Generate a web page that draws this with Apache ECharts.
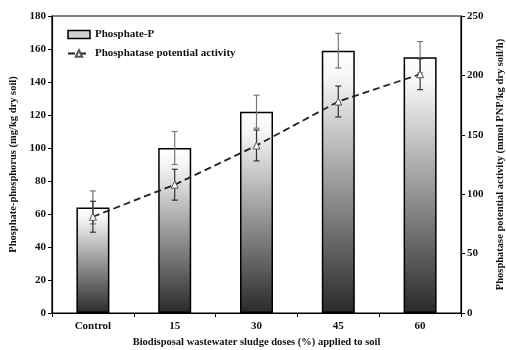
<!DOCTYPE html>
<html>
<head>
<meta charset="utf-8">
<script src="https://cdn.jsdelivr.net/npm/echarts@6/dist/echarts.min.js"></script>
<style>
html,body{margin:0;padding:0;background:#fff;}
#chart{width:506px;height:350px;}
</style>
</head>
<body>
<div id="chart"></div>
<script>
// doses applied to soil
var categories = ['Control', '15', '30', '45', '60'];
// phosphate-P (mg/kg dry soil), left axis
var phosphateP = [64, 100, 122, 159, 155];
var phosphateErr = [10, 10, 10, 10.5, 9.5];
// phosphatase potential activity, right axis
var activity = [81, 108, 141, 178, 201];
var activityErr = [13, 13, 13, 13, 13];

var serif = '"Liberation Serif", "DejaVu Serif", serif';

function errItems(vals, errs){
	return vals.map(function(v, i){ return [i, v - errs[i], v + errs[i]]; });
}

// draws vertical error bar with caps
function drawErr(color){
	return function(params, api){
		var lo = api.coord([api.value(0), api.value(1)]);
		var hi = api.coord([api.value(0), api.value(2)]);
		var w = 3;
		var st = {stroke: color, lineWidth: 1.2};
		return {
			type: 'group',
			children: [
				{type: 'line', shape: {x1: hi[0], y1: hi[1], x2: lo[0], y2: lo[1]}, style: st},
				{type: 'line', shape: {x1: hi[0]-w, y1: hi[1], x2: hi[0]+w, y2: hi[1]}, style: st},
				{type: 'line', shape: {x1: lo[0]-w, y1: lo[1], x2: lo[0]+w, y2: lo[1]}, style: st}
			]
		};
	};
}

var chart = echarts.init(document.getElementById('chart'));
var barGrad = new echarts.graphic.LinearGradient(0, 0, 0, 1, [
	{offset: 0, color: '#ffffff'},
	{offset: 0.1, color: '#f6f6f6'},
	{offset: 1, color: '#2a2a2a'}
]);

var options = {
	backgroundColor: '#ffffff',
	animation: false,
	textStyle: {fontFamily: serif},
	grid: {
		left: 52, right: 45, top: 16, bottom: 37,
		outerBoundsMode: 'none',
		containLabel: false,
		show: true, borderColor: '#000', borderWidth: 1.2
	},
	legend: {
		left: 62, top: 24,
		orient: 'vertical',
		itemGap: 8,
		itemWidth: 22, itemHeight: 8,
		textStyle: {fontFamily: serif, fontWeight: 'bold', fontSize: 11, color: '#111'},
		data: [
			{name: 'Phosphate-P', icon: 'rect', itemStyle: {color: '#cfcfcf', borderColor: '#000', borderWidth: 1.5}},
			{name: 'Phosphatase potential activity'}
		]
	},
	xAxis: {
		type: 'category',
		data: categories,
		name: 'Biodisposal wastewater sludge doses (%) applied to soil',
		nameLocation: 'middle',
		nameGap: 24,
		nameTextStyle: {fontFamily: serif, fontWeight: 'bold', fontSize: 10.5, color: '#111'},
		axisLine: {lineStyle: {color: '#000', width: 1.2}},
		axisTick: {show: true, length: 4, lineStyle: {color: '#000'}},
		axisLabel: {fontFamily: serif, fontWeight: 'bold', fontSize: 11, color: '#111', margin: 8}
	},
	yAxis: [
		{
			type: 'value', min: 0, max: 180, interval: 20,
			name: 'Phosphate-phosphorus (mg/kg dry soil)',
			nameLocation: 'middle', nameGap: 32, nameRotate: 90,
			nameTextStyle: {fontFamily: serif, fontWeight: 'bold', fontSize: 10.5, color: '#111'},
			axisLine: {show: true, lineStyle: {color: '#000', width: 1.2}},
			axisTick: {show: true, length: 4, lineStyle: {color: '#000'}},
			axisLabel: {fontFamily: serif, fontWeight: 'bold', fontSize: 11, color: '#111', margin: 6},
			splitLine: {show: false}
		},
		{
			type: 'value', min: 0, max: 250, interval: 50,
			name: 'Phosphatase potential activity (mmol PNP/kg dry soil/h)',
			nameLocation: 'middle', nameGap: 30, nameRotate: 90,
			nameTextStyle: {fontFamily: serif, fontWeight: 'bold', fontSize: 10.5, color: '#111'},
			axisLine: {show: true, lineStyle: {color: '#000', width: 1.2}},
			axisTick: {show: true, length: 4, lineStyle: {color: '#000'}},
			axisLabel: {fontFamily: serif, fontWeight: 'bold', fontSize: 11, color: '#111', margin: 6},
			splitLine: {show: false}
		}
	],
	series: [
		{
			name: 'Phosphate-P',
			type: 'bar',
			data: phosphateP,
			barWidth: 33,
			itemStyle: {color: barGrad, borderColor: '#000', borderWidth: 1.5}
		},
		{
			type: 'custom',
			data: errItems(phosphateP, phosphateErr),
			renderItem: drawErr('#777'),
			encode: {x: 0, y: [1, 2]},
			z: 3
		},
		{
			type: 'custom',
			yAxisIndex: 1,
			data: errItems(activity, activityErr),
			renderItem: drawErr('#333'),
			encode: {x: 0, y: [1, 2]},
			z: 4
		},
		{
			name: 'Phosphatase potential activity',
			type: 'line',
			yAxisIndex: 1,
			data: activity,
			symbol: 'triangle',
			symbolSize: 7,
			lineStyle: {color: '#222', width: 1.8, type: [7, 4]},
			itemStyle: {color: '#fff', borderColor: '#555', borderWidth: 1},
			z: 5
		}
	]
};
chart.setOption(options);
</script>
</body>
</html>
